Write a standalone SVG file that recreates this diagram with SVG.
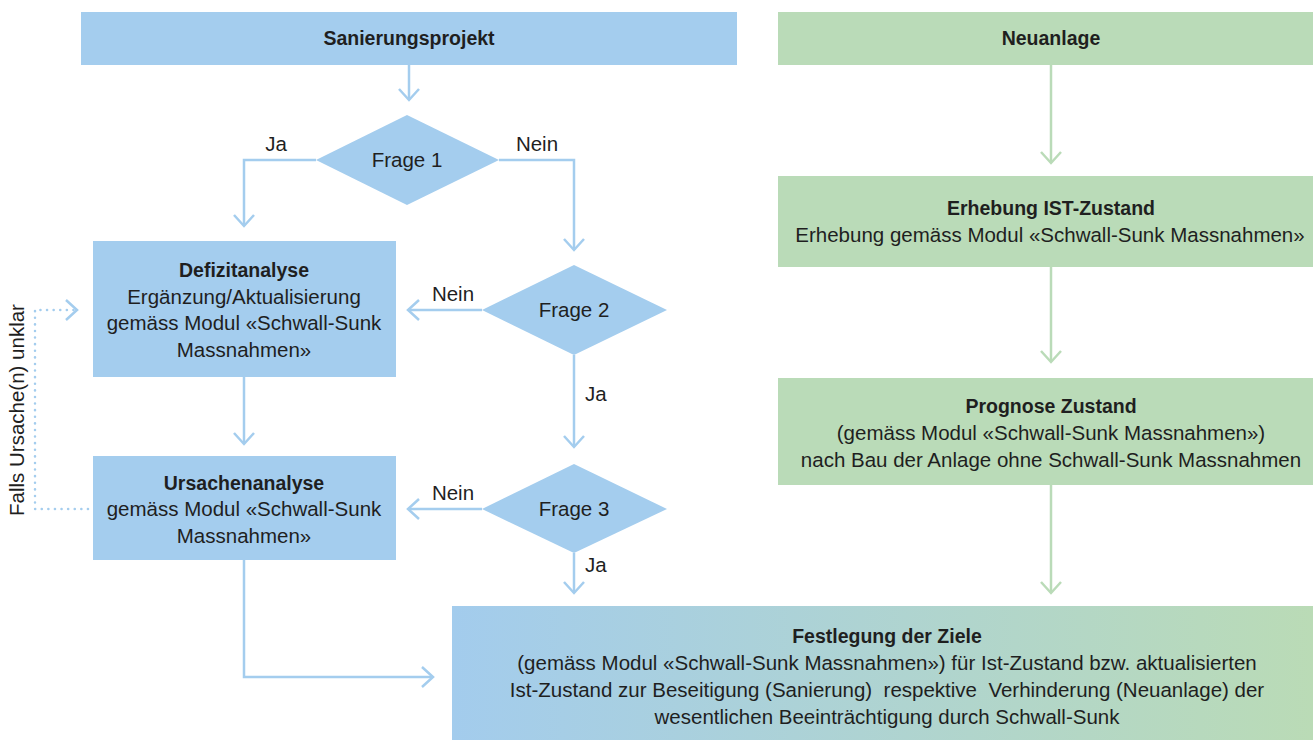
<svg xmlns="http://www.w3.org/2000/svg" width="1313" height="740" viewBox="0 0 1313 740">
<defs>
<style>
text{font-family:"Liberation Sans",Arial,sans-serif;font-size:20.5px;fill:#1f1f1f;text-anchor:middle}
.b{font-weight:bold;font-size:19.5px}
.l{text-anchor:start}
.bl{fill:#a4cdee}
.gr{fill:#badbb8}
.cb{fill:none;stroke:#a4cdee;stroke-width:2.5}
.cg{fill:none;stroke:#badbb8;stroke-width:2.5}
.dot{fill:none;stroke:#a4cdee;stroke-width:2.5;stroke-dasharray:0.1 6.5;stroke-linecap:round}
</style>
<marker id="ab" markerUnits="userSpaceOnUse" viewBox="-13 -12 15 24" refX="0" refY="0" markerWidth="15" markerHeight="24" orient="auto" overflow="visible">
<path d="M-11,-10 L0,0 L-11,10" fill="none" stroke="#a4cdee" stroke-width="2.5"/>
</marker>
<marker id="ag" markerUnits="userSpaceOnUse" viewBox="-13 -12 15 24" refX="0" refY="0" markerWidth="15" markerHeight="24" orient="auto" overflow="visible">
<path d="M-11,-10 L0,0 L-11,10" fill="none" stroke="#badbb8" stroke-width="2.5"/>
</marker>
<linearGradient id="grad" x1="0" y1="0" x2="1" y2="0">
<stop offset="0" stop-color="#a3cced"/>
<stop offset="1" stop-color="#badbb6"/>
</linearGradient>
</defs>

<g id="connectors">
<path class="cb" d="M409,65 V100" marker-end="url(#ab)"/>
<path class="cb" d="M316,160 H244 V226" marker-end="url(#ab)"/>
<path class="cb" d="M499,160 H574 V250" marker-end="url(#ab)"/>
<path class="cb" d="M482,310 H408" marker-end="url(#ab)"/>
<path class="cb" d="M574,355 V447" marker-end="url(#ab)"/>
<path class="cb" d="M482,509 H408" marker-end="url(#ab)"/>
<path class="cb" d="M574,553 V593" marker-end="url(#ab)"/>
<path class="cb" d="M244,377 V444" marker-end="url(#ab)"/>
<path class="cb" d="M244,560 V677 H433" marker-end="url(#ab)"/>
<path class="dot" d="M88,509 H35 V310 H76"/>
<path d="M66,300 L77,310 L66,320" fill="none" stroke="#a4cdee" stroke-width="2.5"/>
<path class="cg" d="M1051,65 V163" marker-end="url(#ag)"/>
<path class="cg" d="M1051,267 V362" marker-end="url(#ag)"/>
<path class="cg" d="M1051,485 V593" marker-end="url(#ag)"/>
<text x="276" y="151">Ja</text>
<text x="537" y="151">Nein</text>
<text x="453" y="301">Nein</text>
<text class="l" x="585" y="401">Ja</text>
<text x="453" y="500">Nein</text>
<text class="l" x="585" y="572">Ja</text>
<text transform="translate(24,410) rotate(-90)">Falls Ursache(n) unklar</text>
</g>

<g id="sanierungsprojekt">
<rect class="bl" x="81" y="12" width="656" height="53"/>
<text class="b" x="409" y="45">Sanierungsprojekt</text>
</g>

<g id="neuanlage">
<rect class="gr" x="778" y="12" width="535" height="53"/>
<text class="b" x="1051" y="45">Neuanlage</text>
</g>

<g id="frage1">
<polygon class="bl" points="407,115 499,160 407,205 316,160"/>
<text x="407" y="167">Frage 1</text>
</g>

<g id="frage2">
<polygon class="bl" points="574,265 667,310 574,355 482,310"/>
<text x="574" y="317">Frage 2</text>
</g>

<g id="frage3">
<polygon class="bl" points="574,464 667,509 574,553 482,509"/>
<text x="574" y="516">Frage 3</text>
</g>

<g id="defizitanalyse">
<rect class="bl" x="93" y="241" width="303" height="136"/>
<text class="b" x="244" y="277">Defizitanalyse</text>
<text x="244" y="304">Ergänzung/Aktualisierung</text>
<text x="244" y="330">gemäss Modul «Schwall-Sunk</text>
<text x="244" y="357">Massnahmen»</text>
</g>

<g id="ursachenanalyse">
<rect class="bl" x="93" y="456" width="303" height="104"/>
<text class="b" x="244" y="490">Ursachenanalyse</text>
<text x="244" y="516">gemäss Modul «Schwall-Sunk</text>
<text x="244" y="543">Massnahmen»</text>
</g>

<g id="erhebung">
<rect class="gr" x="778" y="176" width="535" height="91"/>
<text class="b" x="1051" y="215">Erhebung IST-Zustand</text>
<text x="1050" y="242">Erhebung gemäss Modul «Schwall-Sunk Massnahmen»</text>
</g>

<g id="prognose">
<rect class="gr" x="778" y="378" width="535" height="107"/>
<text class="b" x="1051" y="413">Prognose Zustand</text>
<text x="1051" y="440">(gemäss Modul «Schwall-Sunk Massnahmen»)</text>
<text x="1051" y="467">nach Bau der Anlage ohne Schwall-Sunk Massnahmen</text>
</g>

<g id="festlegung">
<rect x="452" y="606" width="861" height="134" fill="url(#grad)"/>
<text class="b" x="887" y="643">Festlegung der Ziele</text>
<text x="887" y="670">(gemäss Modul «Schwall-Sunk Massnahmen») für Ist-Zustand bzw. aktualisierten</text>
<text x="887" y="697" xml:space="preserve">Ist-Zustand zur Beseitigung (Sanierung)  respektive  Verhinderung (Neuanlage) der</text>
<text x="887" y="724">wesentlichen Beeinträchtigung durch Schwall-Sunk</text>
</g>
</svg>
